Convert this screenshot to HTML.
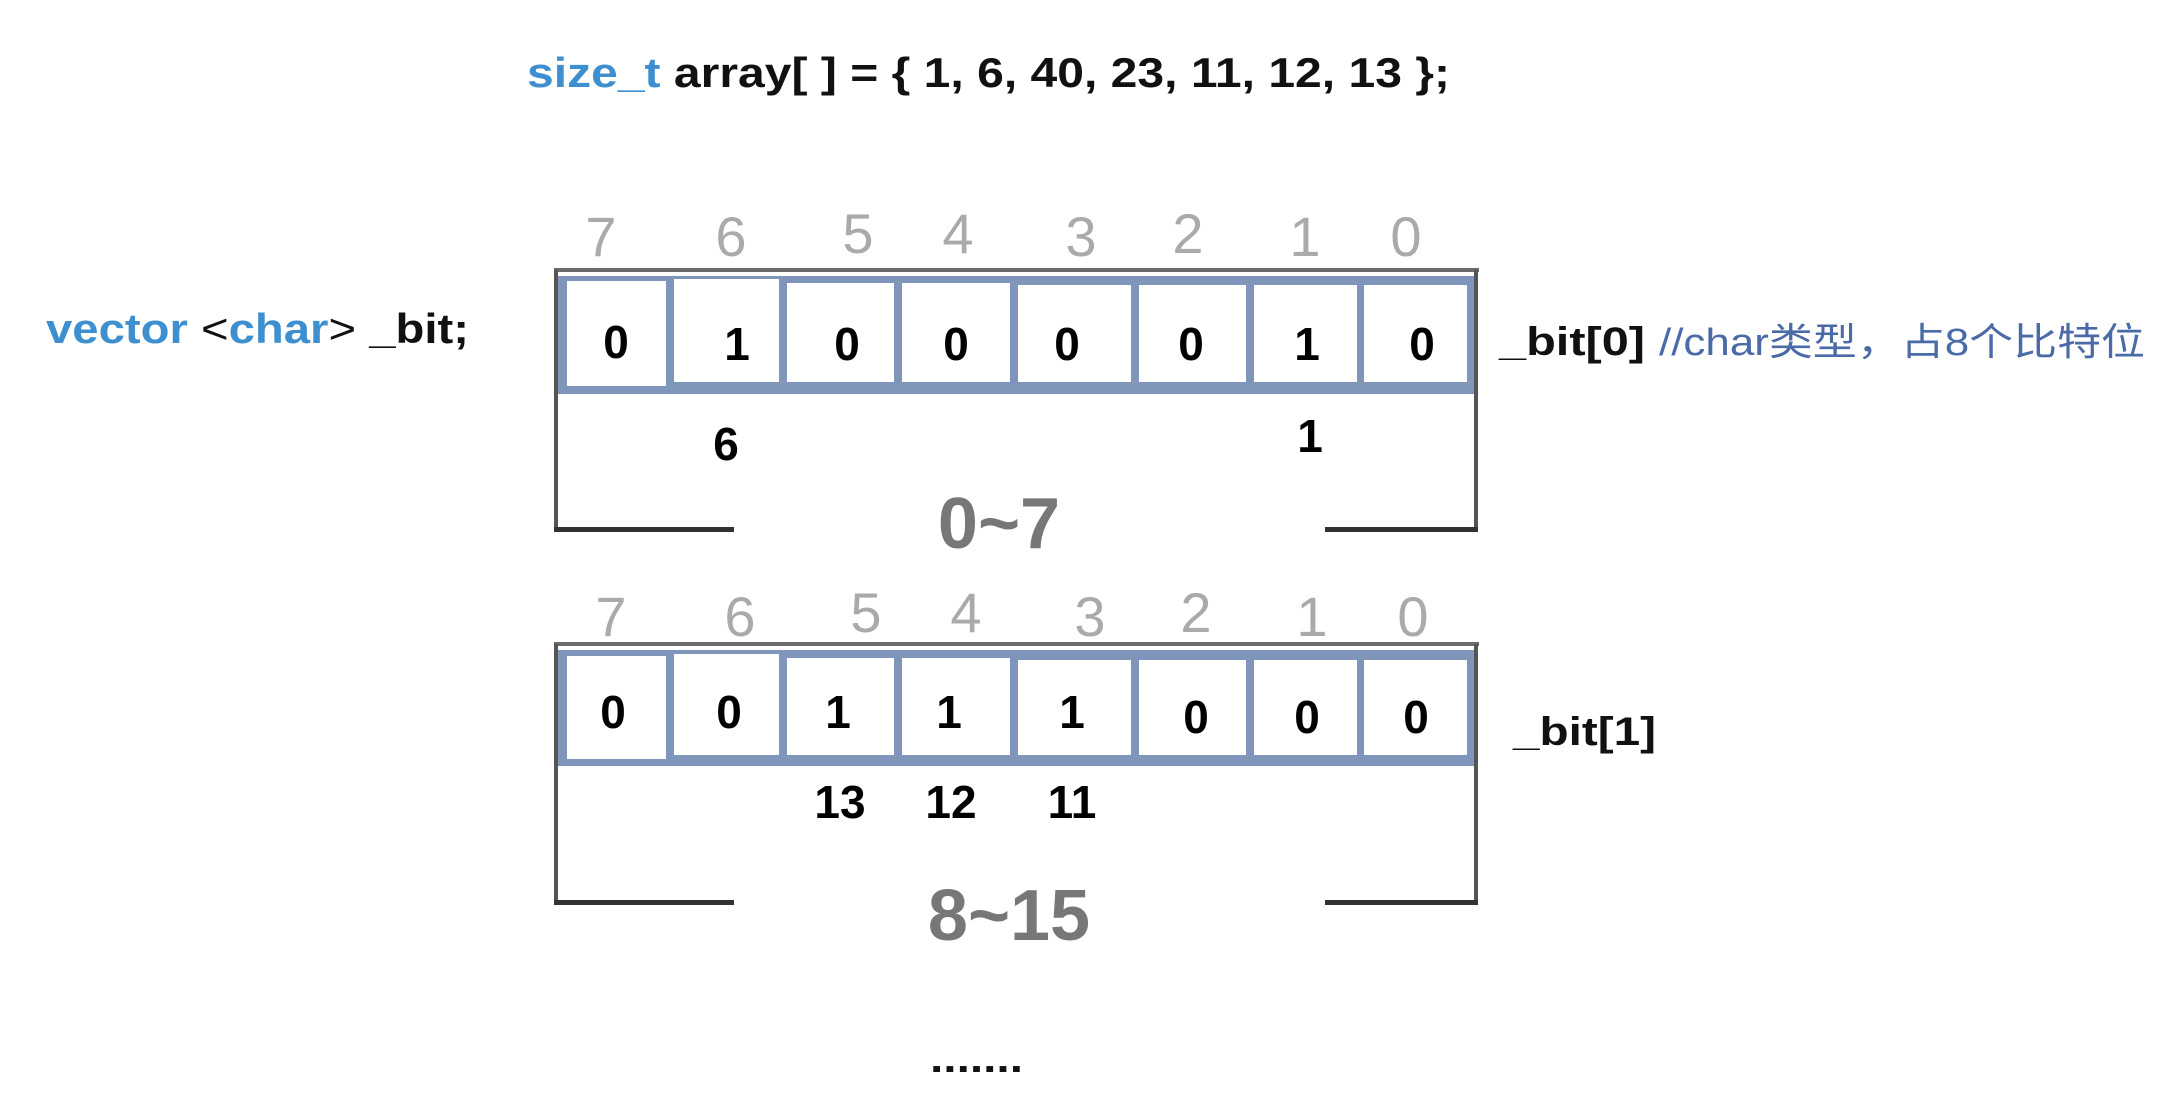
<!DOCTYPE html>
<html><head><meta charset="utf-8"><style>
html,body{margin:0;padding:0;background:#fff;width:2176px;height:1108px;overflow:hidden}
text{font-family:"Liberation Sans","Noto Sans CJK SC",sans-serif}
</style></head><body>
<svg width="2176" height="1108" viewBox="0 0 2176 1108" xmlns="http://www.w3.org/2000/svg">
<!-- title -->
<text x="527" y="87" font-size="42" font-weight="bold" textLength="923" lengthAdjust="spacingAndGlyphs"><tspan fill="#3d8fd0">size_t</tspan><tspan fill="#111"> array[ ] = { 1, 6, 40, 23, 11, 12, 13 };</tspan></text>
<!-- left label -->
<text x="46" y="343" font-size="42" textLength="423" lengthAdjust="spacingAndGlyphs"><tspan fill="#3d8fd0" font-weight="bold">vector</tspan><tspan fill="#111"> &lt;</tspan><tspan fill="#3d8fd0" font-weight="bold">char</tspan><tspan fill="#111">&gt; </tspan><tspan fill="#111" font-weight="bold">_bit;</tspan></text>
<!-- right labels -->
<text x="1499" y="355" font-size="40" font-weight="bold" fill="#111" textLength="146" lengthAdjust="spacingAndGlyphs">_bit[0]</text>
<text x="1659" y="355" font-size="38" fill="#4a6aa8" textLength="486" lengthAdjust="spacingAndGlyphs">//char类型，占8个比特位</text>
<text x="1513" y="745" font-size="40" font-weight="bold" fill="#111" textLength="143" lengthAdjust="spacingAndGlyphs">_bit[1]</text>

<g id="b1">
<g fill="#aaa" font-size="56" text-anchor="middle">
<text x="601" y="256">7</text><text x="731" y="256">6</text><text x="858" y="253">5</text><text x="958" y="253">4</text><text x="1081" y="256">3</text><text x="1188" y="253">2</text><text x="1305" y="256">1</text><text x="1406" y="256">0</text>
</g>
<rect x="554" y="268" width="925" height="4" fill="#6b6b6b"/>
<rect x="556" y="276" width="921" height="118" fill="#7f95ba"/>
<g fill="#fff">
<rect x="567" y="281" width="99" height="105"/><rect x="674" y="279" width="105" height="103"/><rect x="787" y="283" width="107" height="99"/><rect x="902" y="283" width="108" height="99"/><rect x="1018" y="285" width="113" height="97"/><rect x="1139" y="285" width="107" height="97"/><rect x="1254" y="285" width="103" height="97"/><rect x="1364" y="285" width="103" height="97"/>
</g>
<g fill="#000" font-size="46" font-weight="bold" text-anchor="middle">
<text x="616" y="358">0</text><text x="737" y="360">1</text><text x="847" y="360">0</text><text x="956" y="360">0</text><text x="1067" y="360">0</text><text x="1191" y="360">0</text><text x="1307" y="360">1</text><text x="1422" y="360">0</text>
<text x="726" y="460">6</text><text x="1310" y="452">1</text>
</g>
<rect x="554" y="270" width="4" height="262" fill="#555"/>
<rect x="1474" y="270" width="4" height="262" fill="#555"/>
<rect x="554" y="527" width="180" height="5" fill="#333"/>
<rect x="1325" y="527" width="153" height="5" fill="#333"/>
<text x="999" y="548" font-size="72" font-weight="bold" fill="#777" text-anchor="middle">0~7</text>
</g>

<g id="b2">
<g fill="#aaa" font-size="56" text-anchor="middle">
<text x="611" y="636">7</text><text x="740" y="636">6</text><text x="866" y="632">5</text><text x="966" y="632">4</text><text x="1090" y="636">3</text><text x="1196" y="632">2</text><text x="1312" y="636">1</text><text x="1413" y="636">0</text>
</g>
<rect x="554" y="642" width="925" height="4" fill="#6b6b6b"/>
<rect x="556" y="650" width="921" height="116" fill="#7f95ba"/>
<g fill="#fff">
<rect x="567" y="656" width="99" height="103"/><rect x="674" y="654" width="105" height="101"/><rect x="787" y="658" width="107" height="97"/><rect x="902" y="658" width="108" height="97"/><rect x="1018" y="660" width="113" height="95"/><rect x="1139" y="660" width="107" height="95"/><rect x="1254" y="660" width="103" height="95"/><rect x="1364" y="660" width="103" height="95"/>
</g>
<g fill="#000" font-size="46" font-weight="bold" text-anchor="middle">
<text x="613" y="728">0</text><text x="729" y="728">0</text><text x="838" y="728">1</text><text x="949" y="728">1</text><text x="1072" y="728">1</text><text x="1196" y="733">0</text><text x="1307" y="733">0</text><text x="1416" y="733">0</text>
<text x="840" y="818">13</text><text x="951" y="818">12</text><text x="1072" y="818">11</text>
</g>
<rect x="554" y="644" width="4" height="261" fill="#555"/>
<rect x="1474" y="644" width="4" height="261" fill="#555"/>
<rect x="554" y="900" width="180" height="5" fill="#333"/>
<rect x="1325" y="900" width="153" height="5" fill="#333"/>
<text x="1009" y="940" font-size="72" font-weight="bold" fill="#777" text-anchor="middle">8~15</text>
</g>
<text x="930" y="1072" font-size="40" font-weight="bold" fill="#111" textLength="93" lengthAdjust="spacingAndGlyphs">.......</text>
</svg>
</body></html>
